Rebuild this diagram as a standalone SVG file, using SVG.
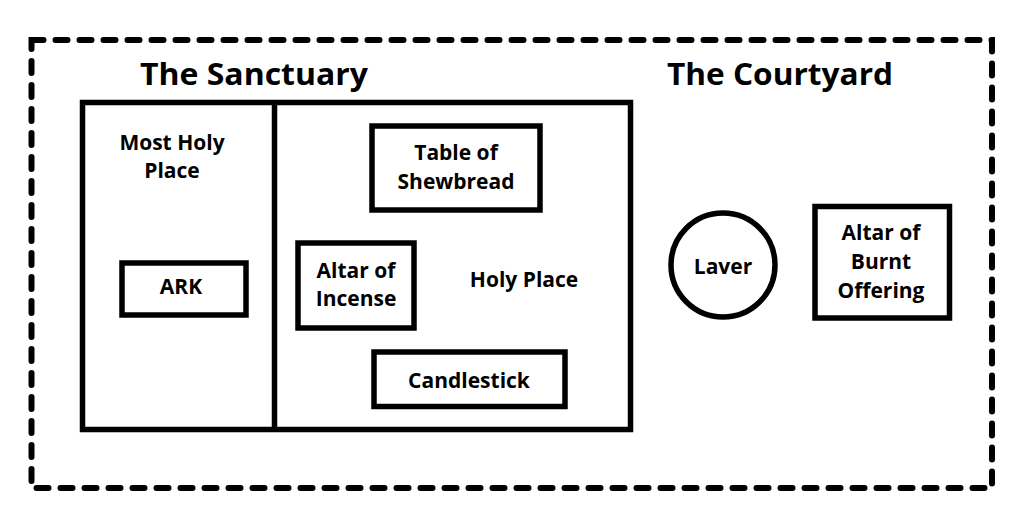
<svg xmlns="http://www.w3.org/2000/svg" width="1024" height="522" viewBox="0 0 1024 522">
<style>
.box{fill:none;stroke:#000;stroke-width:5.5}
.t{font-family:"Open Sans","Liberation Sans",sans-serif;font-weight:bold;font-size:21px;fill:#000;text-anchor:middle}
.h{font-family:"Open Sans","Liberation Sans",sans-serif;font-weight:bold;font-size:31px;fill:#000;text-anchor:middle}
</style>
<rect width="1024" height="522" fill="#fff"/>
<g id="courtyard">
<rect x="31.5" y="40" width="960.5" height="448" fill="none" stroke="#000" stroke-width="6" stroke-dasharray="12 12" stroke-linecap="round"/>
<text class="h" x="780" y="85" textLength="226" lengthAdjust="spacingAndGlyphs">The Courtyard</text>
</g>
<g id="sanctuary">
<rect class="box" x="82.5" y="102.5" width="548" height="327"/>
<line x1="274.5" y1="102.5" x2="274.5" y2="429.5" stroke="#000" stroke-width="5.5"/>
<text class="h" x="254" y="85" textLength="228" lengthAdjust="spacingAndGlyphs">The Sanctuary</text>
</g>
<g id="most-holy-place">
<text class="t" x="172" y="150">Most Holy</text>
<text class="t" x="172" y="178">Place</text>
</g>
<g id="holy-place">
<text class="t" x="524" y="287">Holy Place</text>
</g>
<g id="ark">
<rect class="box" x="122" y="263" width="124" height="52"/>
<text class="t" x="181" y="294">ARK</text>
</g>
<g id="table-of-shewbread">
<rect class="box" x="372" y="126" width="168" height="84"/>
<text class="t" x="456" y="160">Table of</text>
<text class="t" x="456" y="189">Shewbread</text>
</g>
<g id="altar-of-incense">
<rect class="box" x="298" y="243" width="116" height="85"/>
<text class="t" x="356" y="278">Altar of</text>
<text class="t" x="356" y="306">Incense</text>
</g>
<g id="candlestick">
<rect class="box" x="374" y="352" width="191" height="54.5"/>
<text class="t" x="469" y="388">Candlestick</text>
</g>
<g id="laver">
<circle class="box" cx="723" cy="265" r="52"/>
<text class="t" x="723" y="274">Laver</text>
</g>
<g id="altar-of-burnt-offering">
<rect class="box" x="815" y="206.5" width="134.5" height="111.5"/>
<text class="t" x="881" y="240">Altar of</text>
<text class="t" x="881" y="269">Burnt</text>
<text class="t" x="881" y="298">Offering</text>
</g>
<g id="connectors"/>
</svg>
